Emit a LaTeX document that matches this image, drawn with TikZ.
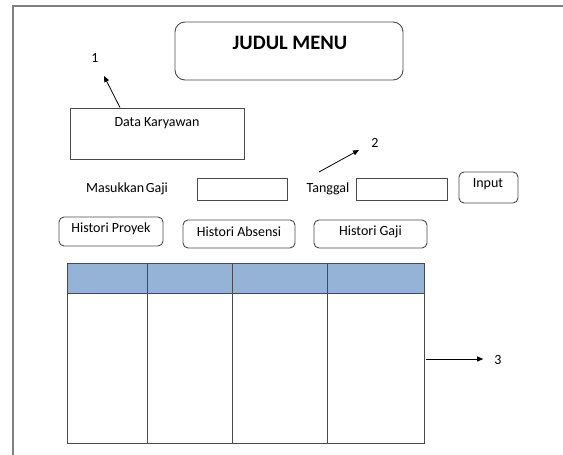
\documentclass[tikz,border=0pt]{standalone}
\usepackage{fontspec}
\setmainfont{Carlito}
\usetikzlibrary{arrows.meta}
\definecolor{edge}{HTML}{4A4A4A}
\definecolor{headfill}{HTML}{95B3D7}
\tikzset{
  box/.style={draw=edge, line width=0.9pt, inner sep=0pt},
  btn/.style={box, rounded corners=5pt},
  lbl/.style={font=\fontsize{14}{16}\selectfont, inner sep=0pt},
  pointer/.style={draw=black, line width=0.8pt, -{Triangle[length=6pt,width=5pt]}},
}
\begin{document}
\begin{tikzpicture}[x=1pt,y=-1pt]
\useasboundingbox (0,0) rectangle (563,455);
\fill[white] (0,0) rectangle (563,455);
\begin{scope}
  \clip (0,0) rectangle (563,455);
  % page frame, running off the right and bottom edges
  \draw[edge!70, line width=1.1pt] (13,470) -- (13,6) -- (580,6);
\end{scope}

% title
\node[btn, rounded corners=10pt, minimum width=228pt, minimum height=58pt] (titlebox) at (289,51) {};
\node[font=\fontsize{20.5}{24}\selectfont\bfseries, inner sep=0pt] (title) at (290,43) {JUDUL MENU};

% employee data panel
\node[box, minimum width=174pt, minimum height=51pt] (data) at (157,133.5) {};
\node[lbl] (datalbl) at (157,123) {Data Karyawan};
\node[lbl] (n1) at (95,58) {1};
\coordinate (d1) at ([xshift=-37pt]data.north);
\coordinate (h1) at (104,76);
\draw[pointer] (d1) -- (h1);

% input row
\node[lbl] (gaji) at (127,189) {Masukkan\hspace{0.12em}Gaji};
\node[box, minimum width=90pt, minimum height=22pt] (gajibox) at (242,189) {};
\node[lbl] (tgl) at (328,189) {Tanggal};
\node[box, minimum width=91pt, minimum height=22pt] (tglbox) at (401.5,189) {};
\node[btn, minimum width=59pt, minimum height=31pt] (input) at (488.5,187.5) {};
\node[lbl] (inputlbl) at (488,184) {Input};

\coordinate (t2) at (319,172);
\coordinate (h2) at (359,150);
\draw[pointer] (t2) -- (h2);
\node[lbl] (n2) at (375,143) {2};

% history buttons
\node[btn, minimum width=104pt, minimum height=29pt] (hp) at (111,231.5) {};
\node[lbl] (hplbl) at (111,229) {Histori Proyek};
\node[btn, minimum width=112pt, minimum height=28pt] (ha) at (239,234) {};
\node[lbl] (halbl) at (239,232) {Histori Absensi};
\node[btn, minimum width=113pt, minimum height=28pt] (hg) at (370.5,234) {};
\node[lbl] (hglbl) at (370.5,232) {Histori Gaji};

% result table
\fill[headfill] (67,263) rectangle (424,293);
\draw[box] (67,263) rectangle (424,443);
\draw[box] (67,293) -- (424,293);
\foreach \cx in {147,232,327} \draw[box] (\cx,263) -- (\cx,443);
\node[minimum width=357pt, minimum height=180pt, inner sep=0pt] (table) at (245.5,353) {};
\coordinate (t3) at ([shift={(2pt,-6pt)}]table.east);
\coordinate (h3) at ([xshift=57pt]t3);
\draw[pointer] (t3) -- (h3);
\node[lbl] (n3) at (498,360) {3};
\end{tikzpicture}
\end{document}
